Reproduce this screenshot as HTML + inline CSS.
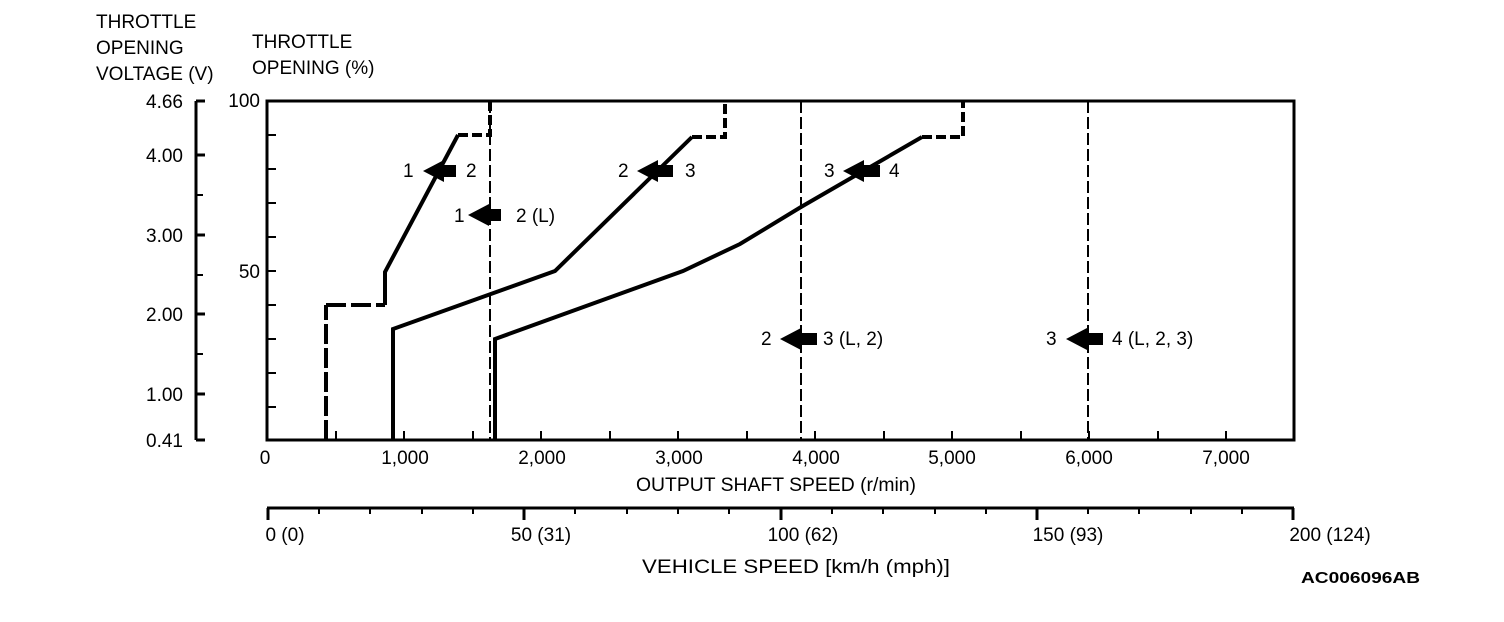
<!DOCTYPE html>
<html><head><meta charset="utf-8"><style>
html,body{margin:0;padding:0;background:#fff;}
svg{display:block;}
text{font-family:"Liberation Sans",Arial,sans-serif;font-size:19px;fill:#000;}
</style></head><body>
<svg width="1504" height="622" viewBox="0 0 1504 622" xmlns="http://www.w3.org/2000/svg">
<text x="96" y="28">THROTTLE</text>
<text x="96" y="54">OPENING</text>
<text x="96" y="80">VOLTAGE (V)</text>
<text x="252" y="48">THROTTLE</text>
<text x="252" y="74">OPENING (%)</text>
<g stroke="#000" stroke-width="3" fill="none">
<line x1="196" y1="101" x2="196" y2="440"/>
<line x1="196" y1="101" x2="205" y2="101"/>
<line x1="196" y1="155" x2="205" y2="155"/>
<line x1="196" y1="235" x2="205" y2="235"/>
<line x1="196" y1="314" x2="205" y2="314"/>
<line x1="196" y1="394" x2="205" y2="394"/>
<line x1="196" y1="440" x2="205" y2="440"/>
</g>
<g stroke="#000" stroke-width="2">
<line x1="196" y1="195" x2="203" y2="195"/>
<line x1="196" y1="275" x2="203" y2="275"/>
<line x1="196" y1="354" x2="203" y2="354"/>
</g>
<g text-anchor="end">
<text x="183" y="108">4.66</text>
<text x="183" y="162">4.00</text>
<text x="183" y="242">3.00</text>
<text x="183" y="321">2.00</text>
<text x="183" y="401">1.00</text>
<text x="183" y="447">0.41</text>
<text x="260" y="107">100</text>
<text x="260" y="278">50</text>
</g>
<rect x="267" y="101" width="1027" height="339" fill="none" stroke="#000" stroke-width="3"/>
<g stroke="#000" stroke-width="2">
<line x1="267" y1="135" x2="276" y2="135"/>
<line x1="267" y1="169" x2="276" y2="169"/>
<line x1="267" y1="203" x2="276" y2="203"/>
<line x1="267" y1="237" x2="276" y2="237"/>
<line x1="267" y1="271" x2="276" y2="271"/>
<line x1="267" y1="305" x2="276" y2="305"/>
<line x1="267" y1="339" x2="276" y2="339"/>
<line x1="267" y1="373" x2="276" y2="373"/>
<line x1="267" y1="407" x2="276" y2="407"/>
<line x1="336" y1="440" x2="336" y2="431"/>
<line x1="404" y1="440" x2="404" y2="431"/>
<line x1="473" y1="440" x2="473" y2="431"/>
<line x1="541" y1="440" x2="541" y2="431"/>
<line x1="610" y1="440" x2="610" y2="431"/>
<line x1="678" y1="440" x2="678" y2="431"/>
<line x1="747" y1="440" x2="747" y2="431"/>
<line x1="815" y1="440" x2="815" y2="431"/>
<line x1="884" y1="440" x2="884" y2="431"/>
<line x1="952" y1="440" x2="952" y2="431"/>
<line x1="1021" y1="440" x2="1021" y2="431"/>
<line x1="1089" y1="440" x2="1089" y2="431"/>
<line x1="1158" y1="440" x2="1158" y2="431"/>
<line x1="1226" y1="440" x2="1226" y2="431"/>
</g>
<g text-anchor="middle">
<text x="265" y="464">0</text>
<text x="405" y="464">1,000</text>
<text x="542" y="464">2,000</text>
<text x="679" y="464">3,000</text>
<text x="816" y="464">4,000</text>
<text x="952" y="464">5,000</text>
<text x="1089" y="464">6,000</text>
<text x="1226" y="464">7,000</text>
</g>
<text x="636" y="491" textLength="280" lengthAdjust="spacingAndGlyphs">OUTPUT SHAFT SPEED (r/min)</text>
<g stroke="#000" stroke-width="2" stroke-dasharray="12,4">
<line x1="490" y1="101" x2="490" y2="440"/>
<line x1="801" y1="101" x2="801" y2="440"/>
<line x1="1088" y1="101" x2="1088" y2="440"/>
</g>
<g stroke="#000" stroke-width="4" fill="none" stroke-linejoin="miter">
<polyline points="326,440 326,305"  stroke-dasharray="20,4"/>
<polyline points="326,305 385,305" stroke-dasharray="20,5"/>
<polyline points="385,305 385,272 458,135"/>
<polyline points="458,135 490,135 490,101" stroke-dasharray="10,4"/>
<polyline points="393,440 393,329 555,271 692,137"/>
<polyline points="692,137 725,137 725,101" stroke-dasharray="10,4"/>
<polyline points="495,440 495,339 683,271 740,244 801,207 922,137"/>
<polyline points="922,137 963,137 963,101" stroke-dasharray="10,4"/>
</g>
<g fill="#000">
<path d="M423,171 L444,160 L444,165 L456,165 L456,177 L444,177 L444,182 Z"/>
<path d="M468,215 L489,204 L489,209 L501,209 L501,221 L489,221 L489,226 Z"/>
<path d="M637,171 L658,160 L658,165 L673,165 L673,177 L658,177 L658,182 Z"/>
<path d="M843,171 L864,160 L864,165 L880,165 L880,177 L864,177 L864,182 Z"/>
<path d="M780,339 L801,328 L801,333 L817,333 L817,345 L801,345 L801,350 Z"/>
<path d="M1066,339 L1087,328 L1087,333 L1103,333 L1103,345 L1087,345 L1087,350 Z"/>
</g>
<text x="403" y="177">1</text><text x="466" y="177">2</text>
<text x="454" y="222">1</text><text x="516" y="222">2 (L)</text>
<text x="618" y="177">2</text><text x="685" y="177">3</text>
<text x="824" y="177">3</text><text x="889" y="177">4</text>
<text x="761" y="345">2</text><text x="823" y="345">3 (L, 2)</text>
<text x="1046" y="345">3</text><text x="1112" y="345">4 (L, 2, 3)</text>
<g stroke="#000" stroke-width="3">
<line x1="267" y1="508" x2="1294" y2="508"/>
<line x1="268" y1="508" x2="268" y2="520"/>
<line x1="524" y1="508" x2="524" y2="520"/>
<line x1="781" y1="508" x2="781" y2="520"/>
<line x1="1037" y1="508" x2="1037" y2="520"/>
<line x1="1293" y1="508" x2="1293" y2="520"/>
</g>
<g stroke="#000" stroke-width="2">
<line x1="319" y1="508" x2="319" y2="514"/><line x1="370" y1="508" x2="370" y2="514"/>
<line x1="422" y1="508" x2="422" y2="514"/><line x1="473" y1="508" x2="473" y2="514"/>
<line x1="575" y1="508" x2="575" y2="514"/><line x1="627" y1="508" x2="627" y2="514"/>
<line x1="678" y1="508" x2="678" y2="514"/><line x1="729" y1="508" x2="729" y2="514"/>
<line x1="832" y1="508" x2="832" y2="514"/><line x1="883" y1="508" x2="883" y2="514"/>
<line x1="935" y1="508" x2="935" y2="514"/><line x1="986" y1="508" x2="986" y2="514"/>
<line x1="1088" y1="508" x2="1088" y2="514"/><line x1="1139" y1="508" x2="1139" y2="514"/>
<line x1="1191" y1="508" x2="1191" y2="514"/><line x1="1242" y1="508" x2="1242" y2="514"/>
</g>
<g text-anchor="middle">
<text x="285" y="541">0 (0)</text>
<text x="541" y="541">50 (31)</text>
<text x="803" y="541">100 (62)</text>
<text x="1068" y="541">150 (93)</text>
<text x="1330" y="541">200 (124)</text>
</g>
<text x="642" y="573" textLength="308" lengthAdjust="spacingAndGlyphs">VEHICLE SPEED [km/h (mph)]</text>
<text x="1301" y="583" textLength="119" lengthAdjust="spacingAndGlyphs" style="font-size:16px;font-weight:bold">AC006096AB</text>
</svg>
</body></html>
